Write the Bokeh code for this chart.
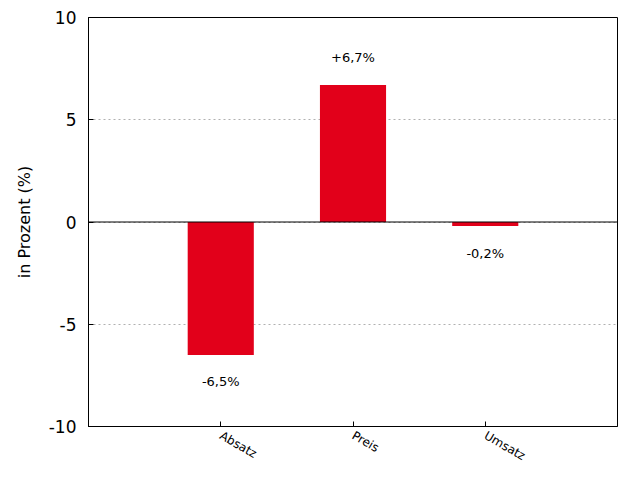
from bokeh.plotting import figure
from bokeh.models import Range1d, FixedTicker, ColumnDataSource, Span
from bokeh.core.properties import value
from bokeh.embed import file_html
from bokeh.resources import INLINE
import math

categories = ["Absatz", "Preis", "Umsatz"]
changes = [-6.5, 6.7, -0.2]
labels = ["-6,5%", "+6,7%", "-0,2%"]
y_ticks = [-10, -5, 0, 5, 10]

xs = [i + 1 for i in range(len(categories))]
offsets = [27 if v < 0 else -27 for v in changes]

src = ColumnDataSource(dict(x=xs, top=changes, label=labels, off=offsets))

FONT = "DejaVu Sans"
p = figure(width=624, height=472, output_backend="svg", toolbar_location=None,
           x_range=Range1d(0, len(categories) + 1), y_range=Range1d(-10, 10),
           min_border_left=88, min_border_right=7, min_border_top=17, min_border_bottom=38)
p.vbar(x="x", top="top", bottom=0, width=0.5, source=src, color="#E2001A", line_color=None)
p.add_layout(Span(location=0, dimension="width", line_color="black", line_width=1, line_alpha=1))
p.text(x="x", y="top", text="label", y_offset="off", source=src, text_align="center",
       text_baseline="middle", text_font=value(FONT), text_font_size="13px", text_color="black")

p.outline_line_color = "black"
p.outline_line_alpha = 1
p.xgrid.grid_line_color = None
p.ygrid.grid_line_color = "#b0b0b0"
p.ygrid.grid_line_dash = "2 3"
p.ygrid.ticker = FixedTicker(ticks=y_ticks)

p.xaxis.ticker = FixedTicker(ticks=xs)
p.xaxis.major_label_overrides = {x: c for x, c in zip(xs, categories)}
p.xaxis.major_label_orientation = -math.pi / 6
p.xaxis.major_label_text_font = FONT
p.xaxis.major_label_text_font_size = "12px"
p.xaxis.major_label_text_color = "black"
p.xaxis.major_label_standoff = 8
p.xaxis.major_tick_in = 5
p.xaxis.major_tick_out = 0
p.xaxis.minor_tick_line_color = None
p.xaxis.axis_line_color = "black"

p.yaxis.ticker = FixedTicker(ticks=y_ticks)
p.yaxis.major_label_overrides = {t: str(t) for t in y_ticks}
p.yaxis.major_label_text_font = FONT
p.yaxis.major_label_text_font_size = "17px"
p.yaxis.major_label_text_color = "black"
p.yaxis.major_tick_in = 5
p.yaxis.major_tick_out = 0
p.yaxis.minor_tick_line_color = None
p.yaxis.major_label_standoff = 12
p.yaxis.axis_label = "in Prozent (%)"
p.yaxis.axis_label_text_font = FONT
p.yaxis.axis_label_text_font_size = "16px"
p.yaxis.axis_label_text_font_style = "normal"
p.yaxis.axis_label_text_color = "black"
p.yaxis.axis_label_standoff = 12
p.yaxis.axis_line_color = "black"

open("out.html", "w").write(file_html(p, INLINE))
